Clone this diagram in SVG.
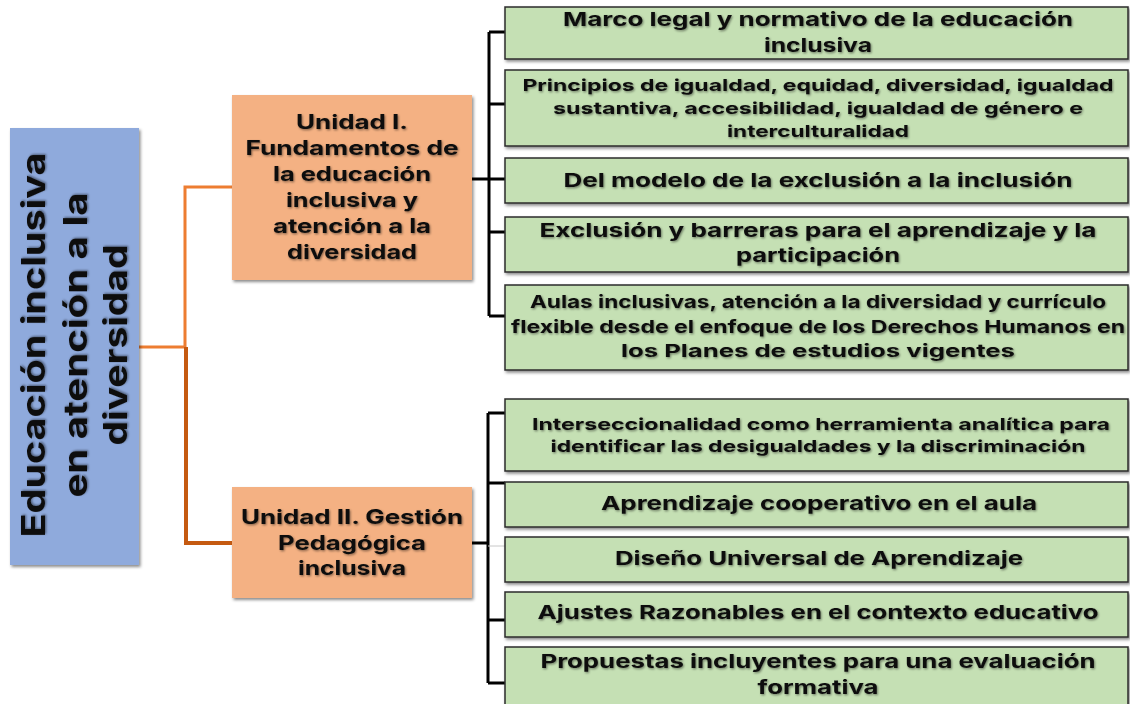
<svg xmlns="http://www.w3.org/2000/svg" width="1130" height="704" viewBox="0 0 1130 704">
<defs>
<filter id="sh" x="-5%" y="-5%" width="115%" height="120%"><feDropShadow dx="1.5" dy="2" stdDeviation="1.5" flood-color="#000" flood-opacity="0.45"/></filter>
<filter id="ts" x="-5%" y="-20%" width="110%" height="150%"><feDropShadow dx="1" dy="1.2" stdDeviation="0.9" flood-color="#000" flood-opacity="0.45"/></filter>
<style>
.t{font-family:Inter,"Open Sans","Liberation Sans",sans-serif;font-weight:700;fill:#111;text-anchor:middle;filter:url(#ts)}
.leaf{fill:#C5E0B4;stroke:#2b2b2b;stroke-width:1.5;filter:url(#sh)}
.unit{fill:#F4B183;filter:url(#sh)}
.root{fill:#8FAADC;filter:url(#sh)}
.k{fill:none;stroke:#000;stroke-width:3}
</style>
</defs>
<rect width="1130" height="704" fill="#fff"/>
<g id="connectors">
<path d="M139,347 H185 V187 H232" fill="none" stroke="#ED7D31" stroke-width="3"/>
<path d="M186,347 V543 H232" fill="none" stroke="#C55A11" stroke-width="4"/>
<path d="M472,179 H489" class="k" stroke-width="6"/>
<path d="M489,32 V316" class="k"/>
<path d="M489,32 H505 M489,104 H505 M489,179 H505 M489,232 H505 M489,316 H505" class="k"/>
<path d="M472,543 H488" class="k"/>
<path d="M488,413 V683" class="k"/>
<path d="M488,413 H505 M488,620 H505 M488,683 H505" class="k"/>
<path d="M488,483 H505" class="k" stroke-width="4"/>
<path d="M488,546 H505" fill="none" stroke="#c8c8c8" stroke-width="1"/>
</g>
<g id="root">
<rect class="root" x="10" y="128" width="129" height="437"/>
<g transform="translate(0,345) rotate(-90)">
<text class="t" font-size="32" x="0" y="45" textLength="385" lengthAdjust="spacingAndGlyphs">Educación inclusiva</text>
<text class="t" font-size="32" x="0" y="87" textLength="305" lengthAdjust="spacingAndGlyphs">en atención a la</text>
<text class="t" font-size="32" x="0" y="127" textLength="201" lengthAdjust="spacingAndGlyphs">diversidad</text>
</g>
</g>
<g id="unidad1">
<rect class="unit" x="232" y="95" width="240" height="185"/>
<text class="t" font-size="20" x="352" y="129" textLength="112" lengthAdjust="spacingAndGlyphs">Unidad I.</text>
<text class="t" font-size="20" x="352" y="155" textLength="213" lengthAdjust="spacingAndGlyphs">Fundamentos de</text>
<text class="t" font-size="20" x="352" y="181" textLength="158" lengthAdjust="spacingAndGlyphs">la educación</text>
<text class="t" font-size="20" x="352" y="207" textLength="132" lengthAdjust="spacingAndGlyphs">inclusiva y</text>
<text class="t" font-size="20" x="352" y="233" textLength="158" lengthAdjust="spacingAndGlyphs">atención a la</text>
<text class="t" font-size="20" x="352" y="259" textLength="130" lengthAdjust="spacingAndGlyphs">diversidad</text>
</g>
<g id="unidad2">
<rect class="unit" x="232" y="487" width="240" height="111"/>
<text class="t" font-size="20" x="352" y="524" textLength="222" lengthAdjust="spacingAndGlyphs">Unidad II. Gestión</text>
<text class="t" font-size="20" x="352" y="550" textLength="148" lengthAdjust="spacingAndGlyphs">Pedagógica</text>
<text class="t" font-size="20" x="352" y="575" textLength="108" lengthAdjust="spacingAndGlyphs">inclusiva</text>
</g>
<g id="leaf1">
<rect class="leaf" x="505" y="7" width="623" height="52"/>
<text class="t" font-size="19" x="818" y="26" textLength="510" lengthAdjust="spacingAndGlyphs">Marco legal y normativo de la educación</text>
<text class="t" font-size="19" x="818" y="52" textLength="108" lengthAdjust="spacingAndGlyphs">inclusiva</text>
</g>
<g id="leaf2">
<rect class="leaf" x="505" y="70" width="623" height="76"/>
<text class="t" font-size="16.5" x="818" y="91" textLength="591" lengthAdjust="spacingAndGlyphs">Principios de igualdad, equidad, diversidad, igualdad</text>
<text class="t" font-size="16.5" x="818" y="114" textLength="530" lengthAdjust="spacingAndGlyphs">sustantiva, accesibilidad, igualdad de género e</text>
<text class="t" font-size="16.5" x="818" y="137" textLength="182" lengthAdjust="spacingAndGlyphs">interculturalidad</text>
</g>
<g id="leaf3">
<rect class="leaf" x="505" y="158" width="623" height="45"/>
<text class="t" font-size="19" x="818" y="187" textLength="509" lengthAdjust="spacingAndGlyphs">Del modelo de la exclusión a la inclusión</text>
</g>
<g id="leaf4">
<rect class="leaf" x="505" y="217" width="623" height="55"/>
<text class="t" font-size="19" x="818" y="237" textLength="557" lengthAdjust="spacingAndGlyphs">Exclusión y barreras para el  aprendizaje y la</text>
<text class="t" font-size="19" x="818" y="262" textLength="164" lengthAdjust="spacingAndGlyphs">participación</text>
</g>
<g id="leaf5">
<rect class="leaf" x="505" y="285" width="623" height="85"/>
<text class="t" font-size="17.5" x="818" y="308" textLength="576" lengthAdjust="spacingAndGlyphs">Aulas inclusivas, atención a la diversidad y currículo</text>
<text class="t" font-size="17.5" x="818" y="333" textLength="614" lengthAdjust="spacingAndGlyphs">flexible desde el enfoque de los Derechos Humanos en</text>
<text class="t" font-size="17.5" x="818" y="357" textLength="394" lengthAdjust="spacingAndGlyphs">los Planes de estudios vigentes</text>
</g>
<g id="leaf6">
<rect class="leaf" x="505" y="399" width="623" height="72"/>
<text class="t" font-size="16.5" x="821" y="430" textLength="578" lengthAdjust="spacingAndGlyphs">Interseccionalidad como herramienta analítica para</text>
<text class="t" font-size="16.5" x="818" y="452" textLength="535" lengthAdjust="spacingAndGlyphs">identificar las desigualdades y la discriminación</text>
</g>
<g id="leaf7">
<rect class="leaf" x="505" y="482" width="623" height="45"/>
<text class="t" font-size="19" x="819" y="510" textLength="436" lengthAdjust="spacingAndGlyphs">Aprendizaje cooperativo en el aula</text>
</g>
<g id="leaf8">
<rect class="leaf" x="505" y="537" width="623" height="45"/>
<text class="t" font-size="19" x="819" y="565" textLength="408" lengthAdjust="spacingAndGlyphs">Diseño Universal de Aprendizaje</text>
</g>
<g id="leaf9">
<rect class="leaf" x="505" y="592" width="623" height="45"/>
<text class="t" font-size="19" x="818" y="619" textLength="561" lengthAdjust="spacingAndGlyphs">Ajustes Razonables en el contexto educativo</text>
</g>
<g id="leaf10">
<rect class="leaf" x="505" y="647" width="623" height="62"/>
<text class="t" font-size="19" x="818" y="668" textLength="555" lengthAdjust="spacingAndGlyphs">Propuestas incluyentes para una evaluación</text>
<text class="t" font-size="19" x="818" y="694" textLength="121" lengthAdjust="spacingAndGlyphs">formativa</text>
</g>
</svg>
